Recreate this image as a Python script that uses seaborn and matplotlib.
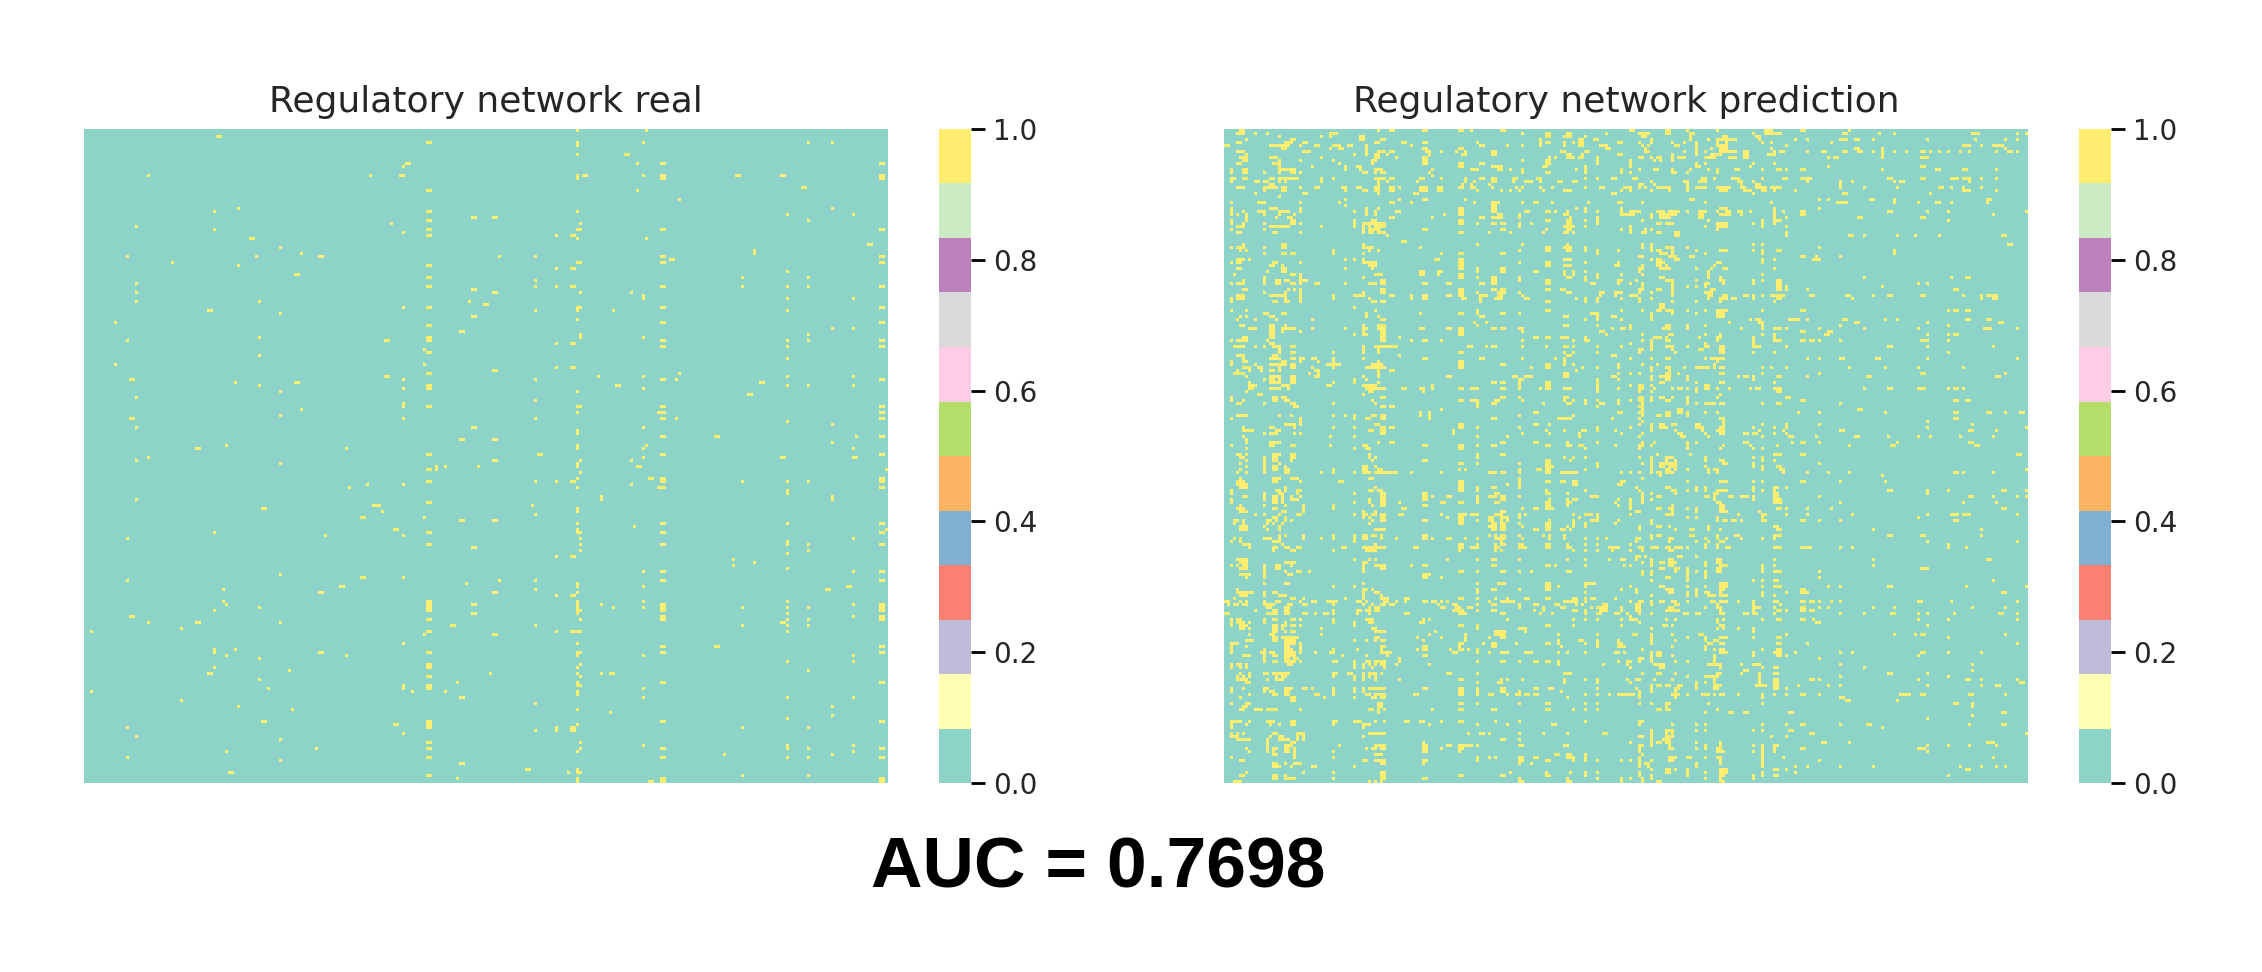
import numpy as np
import matplotlib
matplotlib.use("Agg")
import matplotlib.pyplot as plt
import seaborn as sns

n_rows = 218
n_cols = 268

# real network, {row: [columns]}, one table per area
real_upper_left = {
    2: [44, 45], 4: [114, 115], 11: [107, 108], 12: [106], 15: [21, 95, 105, 106],
    20: [114, 115], 26: [51], 27: [43, 114, 115], 29: [129, 130], 30: [114, 115], 31: [102],
    32: [17], 33: [43, 114, 115], 34: [106], 35: [114, 115], 36: [55, 56], 39: [65], 41: [72],
    42: [14, 57, 78, 79], 44: [29], 45: [51, 114, 115], 48: [70, 71], 49: [114, 115], 51: [17],
    52: [114, 115], 53: [129, 130], 54: [17], 57: [17, 58, 128], 58: [133, 134],
    59: [106, 114, 115], 60: [41, 42], 61: [65], 62: [129, 130], 64: [10], 65: [114, 115],
    67: [125, 126], 69: [58, 114, 115], 70: [14, 100, 101, 114, 115], 73: [113], 74: [114, 115],
    75: [58], 78: [10, 113], 81: [114, 115], 82: [100, 101], 83: [15, 16, 106], 84: [50, 70, 71],
    85: [58, 114, 115], 86: [106, 114, 115], 87: [65], 89: [17], 91: [106], 92: [106, 114, 115],
    93: [72], 95: [65], 96: [15, 16, 106], 99: [17, 129, 130], 103: [125, 126], 105: [47],
    106: [37, 38, 87],
}
real_upper_right = {
    0: [164, 187], 4: [164, 186, 241, 249], 5: [164], 8: [164, 180, 181],
    11: [184, 192, 193, 265, 266], 15: [164, 166, 167, 186, 192, 193, 217, 218, 232, 233, 265, 266],
    16: [164, 192, 193, 265, 266], 19: [239, 240], 20: [184], 23: [198], 26: [249], 27: [164],
    28: [234, 256], 29: [136, 137], 30: [241], 31: [165], 33: [164, 165, 192, 193, 265, 266],
    35: [157, 162, 163], 36: [164, 187], 38: [261, 262], 40: [223], 41: [223],
    42: [138, 150, 192, 193, 265, 266], 43: [195, 196], 44: [164, 165, 192, 193, 265, 266],
    46: [157, 162, 163], 47: [234], 49: [219, 241], 50: [150],
    52: [150, 157, 162, 163, 192, 193, 219, 234, 241, 265, 266], 54: [136, 137, 165, 182],
    55: [186], 56: [186, 234, 256], 58: [133, 134], 59: [164, 165, 192, 193, 265, 266],
    60: [150, 164, 176, 234], 63: [164], 64: [192, 193, 265, 266], 66: [249, 256], 68: [165, 241],
    69: [165, 186], 70: [192, 193, 234, 241, 265, 266], 71: [157, 162, 163],
    72: [192, 193, 234, 265, 266], 76: [234], 79: [157, 162, 163], 80: [136, 137], 81: [198],
    82: [171, 186, 234, 256], 83: [150, 192, 193, 197, 265, 266], 84: [225, 226],
    85: [177, 178, 234, 241, 256], 86: [186], 87: [164], 88: [221, 222], 90: [150],
    92: [164, 165, 192, 193, 265, 266], 94: [164, 191, 192, 193, 265, 266],
    96: [150, 192, 193, 197, 265, 266], 97: [234], 98: [249], 99: [186], 100: [164], 101: [164],
    102: [192, 193, 210, 211, 257, 265, 266], 103: [136, 137], 104: [249], 105: [164, 187],
    106: [164, 186, 256],
}
real_lower_left = {
    108: [114, 115], 109: [21], 110: [17], 111: [65], 112: [117, 120, 131], 113: [114, 115, 117],
    117: [114, 115], 118: [94, 106], 119: [88], 123: [17], 124: [114, 115], 125: [96, 97, 98],
    126: [59, 60], 127: [99], 129: [92, 93, 113], 130: [125, 126], 133: [103, 104],
    134: [43, 114, 115], 135: [80, 106], 136: [14], 138: [114, 115], 139: [129, 130], 148: [65],
    149: [92, 93, 106], 150: [14], 151: [127], 152: [85, 86], 153: [46], 154: [78, 79],
    157: [46, 114, 115], 158: [47, 114, 115, 129, 130], 159: [58, 114, 115], 160: [43, 114, 115],
    161: [129, 130], 162: [15, 16], 163: [114, 115], 164: [21, 37, 38, 65], 165: [122, 123],
    166: [32], 167: [2, 114, 115], 168: [113], 171: [106], 173: [43, 50], 174: [43, 78, 79, 114, 115],
    175: [47, 87], 176: [58], 178: [114, 115], 179: [43, 114, 115], 180: [68], 181: [41, 42, 135],
    182: [114, 115], 183: [58], 184: [124], 185: [106, 114, 115], 186: [61, 106, 114, 115],
    187: [2, 109, 120], 189: [125, 126], 190: [32], 192: [51], 193: [69], 197: [59, 60, 114, 115],
    198: [103, 104, 114, 115], 199: [14, 114, 115], 201: [106], 202: [17], 203: [65],
    204: [114, 115], 206: [77, 114, 115], 207: [47], 209: [14, 114, 115], 210: [65], 211: [125, 126],
    214: [48, 49], 215: [114, 115], 216: [124],
}
real_lower_right = {
    108: [151, 152, 192, 193, 265, 266], 109: [186, 232, 233, 256, 257], 110: [136, 137, 165, 182],
    111: [164], 112: [164, 184, 185], 113: [267], 114: [165], 116: [164, 188, 189, 192, 193, 265, 266],
    117: [150, 157, 162, 163, 192, 193, 219, 234, 241, 265, 266], 118: [182],
    119: [164, 191, 192, 193, 265, 266], 120: [234], 121: [234], 122: [172, 249], 123: [172, 249],
    125: [149], 126: [164], 127: [164], 128: [150], 130: [136, 137],
    131: [164, 192, 193, 234, 265, 266], 132: [183], 133: [164, 267],
    134: [164, 165, 192, 193, 265, 266], 136: [165, 256], 137: [234],
    138: [165, 192, 193, 234, 241, 265, 266], 140: [165, 241], 141: [234], 142: [157, 162, 163],
    143: [216], 144: [223], 145: [216], 146: [234], 147: [186, 192, 193, 256, 265, 266],
    150: [138, 150, 192, 193, 265, 266], 151: [164], 152: [164, 186, 254, 255], 153: [150, 247, 248],
    154: [136, 137, 164], 155: [157, 162, 163], 157: [164, 186, 234], 158: [164, 172, 192, 193, 256, 265, 266],
    159: [164, 176, 186, 192, 193, 219, 234, 241, 265, 266], 160: [164, 165, 192, 193, 265, 266],
    161: [164, 234], 162: [192, 193, 256, 265, 266], 163: [165, 192, 193, 234, 241, 265, 266],
    164: [232, 233], 165: [150, 219, 234, 241], 167: [157, 162, 163, 164, 165, 234], 168: [136, 137],
    171: [164], 172: [192, 193, 210, 211, 265, 266], 174: [164, 165, 192, 193, 265, 266],
    175: [164, 186, 256], 177: [234, 256], 178: [165], 179: [164], 180: [241],
    181: [135, 164, 172, 175, 176], 182: [165], 184: [164, 192, 193, 265, 266], 185: [164, 165],
    186: [186], 187: [164], 188: [164], 189: [186, 234, 256], 191: [150], 192: [249], 193: [164],
    194: [175], 195: [249], 196: [234], 197: [192, 193, 265, 266], 198: [164],
    199: [157, 162, 163, 219, 241], 200: [150, 157, 162, 163], 204: [165], 205: [186, 234, 256],
    206: [165, 192, 193, 234, 241, 265, 266], 207: [164, 256], 208: [213, 249],
    209: [192, 193, 234, 241, 265, 266], 213: [147, 148, 164], 214: [161, 164, 165],
    215: [219, 241], 216: [164, 192, 193, 265, 266], 217: [164, 188, 189, 192, 193, 265, 266],
}

# predicted network, same layout, estimated by eye
pred_upper_left = {
    0: [5, 6, 51, 55, 56, 66, 67, 78, 79, 82, 92, 93],
    1: [4, 5, 6, 10, 14, 35, 36, 37, 99, 107, 108, 114, 115, 127],
    2: [18, 32, 35, 45, 46, 107, 108, 113, 114, 115, 120],
    3: [7, 22, 23, 45, 46, 52, 53, 105, 118, 119, 123, 124],
    4: [4, 5, 20, 21, 22, 26, 27, 50, 51, 59, 60, 66, 67, 84, 105, 107, 108, 113, 116, 118, 119, 131, 132],
    5: [0, 1, 15, 16, 17, 18, 19, 20, 21, 25, 30, 31, 36, 37, 38, 41, 42, 47, 62, 85, 86, 94, 99, 105, 113, 118, 119, 125, 126, 127],
    6: [19, 20, 35, 38, 39, 47, 66, 67, 78, 79, 127, 128],
    7: [4, 5, 6, 26, 27, 28, 47, 51, 52, 53, 55, 56, 67, 68, 72, 77, 80, 89, 90, 112, 113, 120, 121],
    8: [7, 43, 47, 50, 51, 54, 68, 79, 80, 89, 90, 114, 115, 119, 131, 132],
    9: [5, 6, 7, 15, 16, 17, 32, 50, 51, 57, 66, 67, 108, 110, 114, 115, 116, 118, 119, 124],
    10: [6, 7, 18, 25, 36, 49, 50, 66, 67, 99, 107, 108, 124],
    11: [4, 5, 16, 17, 18, 38, 49, 66, 67, 78, 79, 85, 86, 107, 108, 124, 135],
    12: [18, 29, 40, 44, 45, 78, 79, 89, 90, 91, 92, 106, 107, 120, 135],
    13: [2, 6, 7, 18, 19, 20, 21, 22, 23, 40, 45, 50, 51, 52, 69, 82, 83, 84, 91, 92, 95, 99, 117, 120, 132],
    14: [2, 6, 7, 13, 18, 22, 23, 25, 46, 47, 50, 52, 53, 68, 99, 107, 108, 120, 132],
    15: [69],
    16: [2, 3, 6, 7, 15, 16, 18, 19, 20, 21, 22, 23, 24, 32, 36, 50, 51, 52, 53, 55, 56, 65, 66, 72, 80, 85, 86, 89, 90, 96, 97, 104, 105, 120, 124, 129, 130],
    17: [2, 10, 11, 13, 14, 18, 20, 32, 51, 54, 64, 80, 83, 89, 90, 96, 100, 101, 102, 105, 111, 112, 116, 117],
    18: [15, 16, 51, 79, 82, 88],
    19: [4, 5, 6, 13, 14, 15, 16, 17, 19, 20, 25, 30, 31, 39, 40, 44, 45, 50, 51, 55, 56, 58, 65, 66, 67, 71, 72, 78, 79, 82, 83, 89, 97, 99, 105, 109, 120, 125, 126, 133, 134],
    20: [13, 19, 20, 40, 46, 47, 50, 51, 55, 56, 65, 66, 67, 71, 72, 84, 92, 95, 98, 106, 113, 114, 115, 132, 135],
    21: [10, 26, 27, 51, 63, 64, 129, 130],
    22: [18],
    23: [40, 58, 66, 67, 80],
    24: [2, 11, 12, 13, 25, 38, 55, 56, 62, 83, 89, 90, 91, 99, 103, 104, 109, 121, 131, 132],
    25: [40, 89, 90],
    26: [2, 15, 16, 17, 25, 47, 51, 78, 79, 89, 90, 117, 120, 132],
    27: [2, 6, 11, 12, 13, 18, 19, 20, 21, 25, 43, 47, 50, 57, 58, 78, 79, 89, 90, 100, 101, 107, 108, 110, 114, 120, 124, 132],
    28: [2, 4, 7, 13, 18, 23, 47, 50, 73, 78, 79, 91, 92, 98, 113, 114, 132, 133, 134, 135, 136],
    29: [7, 17, 21, 22, 55, 56, 69, 85, 86, 89, 90, 91, 92, 98, 115, 124],
    30: [2, 7, 22, 23, 43, 49, 50, 78, 79, 107, 108, 114, 115, 120, 124],
    31: [2, 6, 13, 22, 23, 25, 43, 46, 47, 48, 49, 50, 51, 52, 53, 78, 79, 84, 89, 90, 92, 93, 98, 102, 114, 115, 124],
    32: [4, 5, 6, 15, 16, 17, 18, 19, 20, 21, 32, 43, 46, 48, 50, 51, 52, 53, 98, 113, 114, 115, 116, 120, 135],
    33: [2, 13, 46, 48, 49, 50, 51, 66, 67, 92, 93, 107, 114, 115, 132, 135],
    34: [4, 5, 16, 17, 25, 46, 48, 49, 51, 52, 53, 78, 79, 88, 95, 106, 113, 114, 116, 135],
    35: [54],
    37: [59, 60],
    38: [6, 19, 20, 46, 84, 99, 114],
    39: [2, 4, 5, 6, 13, 19, 20, 46, 47, 48, 49, 65, 107, 108, 113, 114, 115, 120],
    40: [5, 7, 36, 48, 51, 98, 107, 108, 114, 115, 120, 124, 131],
    41: [13, 19, 20, 22, 23, 36, 46, 72, 78, 79, 92, 93, 124],
    43: [4, 5, 6, 8, 40, 43, 46, 70, 71, 78, 79, 113, 114, 115],
    44: [2, 4, 5, 16, 17, 25, 46, 47, 48, 49, 50, 78, 79, 98, 107, 108, 120, 131],
    45: [15, 16, 19, 48, 49, 50, 78, 79, 107, 108, 113, 114, 115, 130, 131],
    46: [4, 5, 19, 20, 40, 49, 78, 79, 84, 92, 93],
    47: [14, 19, 20, 65, 66, 71, 72, 84, 92, 93, 103, 104, 113, 116, 120],
    48: [3, 22, 23, 25, 50, 51, 52, 65, 66, 71, 78, 79, 113, 116, 124, 132],
    49: [13, 25, 46, 78, 79, 84, 89, 90, 98, 114, 115, 120, 124],
    50: [6, 13, 17, 18, 20, 21, 25, 26, 27, 52, 53, 89, 90, 98, 107, 108, 120, 131, 132],
    51: [2, 4, 5, 6, 13, 17, 18, 22, 23, 25, 30, 31, 40, 48, 49, 50, 52, 53, 66, 67, 74, 75, 85, 86, 89, 90, 107, 108, 122, 123, 131],
    53: [6, 7, 21, 23, 25, 52, 53, 78, 79, 89, 90, 92, 93, 107, 108, 112, 113],
    54: [13, 20, 25, 46, 52, 53, 78, 79, 84, 91, 92, 93, 98, 114, 115, 125, 126, 130, 131, 132],
    55: [4, 5, 6, 15, 16, 17, 18, 19, 20, 25, 36, 43, 44, 45, 46, 55, 56, 62, 66, 67, 74, 75, 78, 79, 85, 86, 87, 91, 92, 99, 125, 130, 135, 136],
    56: [2, 4, 5, 6, 20, 25, 36, 48, 62, 66, 67, 79, 80, 85, 90, 91, 92, 100, 101, 117, 120, 124, 132],
    57: [2, 16, 17, 20, 21, 25, 49, 50, 52, 53, 85, 107, 108, 120, 124],
    59: [43],
    60: [2, 7, 50, 84, 107, 108, 132],
    61: [13, 14, 19, 20, 47, 65, 78, 79, 84, 92, 93, 98, 122, 123, 124],
    62: [5, 7, 15, 16, 47, 51, 85, 86, 113, 114, 124, 129, 130],
    63: [4, 10, 17, 29, 52, 53, 120, 124, 132],
    64: [83, 87],
    65: [5, 6, 15, 16, 20, 46, 51, 52, 53, 84, 113, 114, 124],
    66: [8, 9, 10, 15, 16, 19, 20, 21, 22, 23, 29, 40, 46, 47, 51, 52, 53, 65, 66, 74, 75, 78, 79, 89, 90, 92, 93, 98, 99, 129, 132, 133],
    67: [15, 16, 19, 25, 46, 52, 53, 78, 79, 99, 125, 126],
    68: [15, 16, 43, 46, 47, 52, 53, 78, 79, 127],
    69: [6, 7, 15, 16, 52, 53, 58, 103, 104, 107, 108, 112, 113, 114, 120],
    70: [2, 4, 5, 6, 7, 14, 52, 53, 62, 66, 67, 72, 99, 116, 120, 121],
    71: [15, 16],
    72: [3, 4, 5, 6, 10, 13, 16, 17, 18, 22, 23, 46, 50, 51, 52, 53, 54, 55, 56, 57, 81, 82, 87, 89, 90, 99, 107, 113, 114, 116, 124, 132],
    73: [18, 46, 51],
    74: [18, 22, 23, 36, 46, 51, 78, 79, 113, 116, 124],
    75: [4, 5, 6, 16, 17, 58, 114, 115, 129, 130],
    76: [6, 15, 16, 17, 18, 22, 23, 25, 26, 29, 30, 36, 46, 66, 67, 85, 86, 99, 110, 113, 135],
    77: [2, 6, 7, 19, 20, 25, 31, 36, 51, 78, 79, 113],
    78: [2, 10, 15, 16, 17, 18, 19, 20, 22, 23, 34, 35, 36, 37, 38, 49, 50, 51, 52, 78, 79, 92, 93, 107, 108, 113, 116, 131],
    79: [6, 7, 8, 11, 12, 18, 22, 23, 29, 36, 47, 48, 49, 50, 51, 52, 53, 78, 79, 102, 107, 108, 119, 124, 131],
    80: [4, 8, 12, 15, 16, 18, 30, 31, 51, 55, 56, 117],
    81: [3, 4, 5, 6, 28, 31, 51, 113, 114, 131],
    82: [7, 15, 16, 17, 18, 22, 23, 30, 31, 46, 51, 74, 75, 96, 97, 100, 101, 102, 113, 114, 129, 130],
    83: [13, 15, 16, 18, 22, 23, 43, 47, 98, 99, 124, 131],
    84: [8, 15, 16, 17, 18, 22, 23, 36, 43, 51, 89, 90, 92, 93, 98, 107, 108, 124],
    85: [8, 9, 10, 19, 20, 21, 34, 35, 46, 47, 48, 49, 50, 69, 98, 107, 108, 124],
    86: [8, 9, 15, 16, 17, 18, 21, 47, 48, 49, 50, 51, 52, 53, 59, 60, 65, 66, 69, 78, 79, 82, 83, 84, 92, 93, 98, 105, 107, 108, 113, 114, 115, 124, 131],
    87: [7, 48, 49, 66, 124],
    88: [11, 12, 46],
    89: [2, 16, 17, 19, 20, 52, 53, 92, 93, 98, 113, 114],
    90: [2, 6, 16, 17, 20, 21, 49, 78, 79, 82, 83, 84, 90, 91, 99, 113, 116, 120, 124, 131],
    91: [4, 5, 13, 22, 23, 36, 50, 84, 89, 90, 106, 114, 115, 120, 125, 126, 131],
    92: [23, 24, 52, 53, 55, 56, 84, 124],
    93: [72],
    94: [65, 68, 103, 104, 131, 132],
    95: [4, 5, 6, 7, 18, 22, 36, 40, 43, 49, 50, 52, 53, 65, 68, 98, 116],
    96: [2, 25, 43, 47, 48, 52, 53, 68, 89, 90, 111, 112, 113, 114, 115, 129],
    97: [25],
    98: [20, 21, 22, 23, 25, 50, 51, 78, 79, 103, 104, 108],
    99: [6, 15, 16, 23, 36, 43, 52, 53, 55, 56, 78, 79, 84, 98, 124],
    100: [6, 7, 8, 9, 17, 18, 48, 49, 52, 53, 76, 107, 113, 119, 120, 124, 130],
    101: [13, 15, 16, 17, 23, 25, 52, 53, 76, 99, 108, 118, 132],
    102: [6, 35, 43, 84, 94, 118],
    103: [7],
    104: [7, 15, 16, 17, 18, 51, 55, 56, 92, 93, 103, 104, 114, 124],
    105: [2, 15, 16, 22, 23, 35, 46, 47, 66, 67, 78, 79, 84, 89, 90, 107, 108, 114, 115, 118, 119, 130],
    106: [7, 43, 47, 48, 78, 79, 120],
}
pred_upper_right = {
    0: [135, 136, 147, 148, 154, 164, 180, 181, 182, 192, 193, 208],
    1: [138, 139, 140, 141, 147, 148, 155, 156, 176, 180, 181, 182, 183, 184, 185, 206, 207, 218, 223, 249, 250, 251, 264, 267],
    2: [139, 140, 155, 166, 167, 177, 178],
    3: [142, 155, 161, 164, 165, 166, 167, 168, 169, 170, 178, 190, 194, 205, 206, 207, 210, 211, 216, 234, 250, 260, 264],
    4: [138, 142, 149, 153, 157, 164, 167, 179, 182, 202],
    5: [139, 141, 150, 151, 157, 164, 165, 166, 167, 187, 246, 247, 248, 252, 256, 257, 258, 259],
    6: [140, 157, 162, 165, 166, 167, 182, 210, 211, 219, 260],
    7: [140, 141, 153, 157, 160, 165, 166, 167, 168, 169, 170, 173, 174, 183, 185, 186, 194, 199, 200, 206, 207, 211, 212, 216, 219, 223, 227, 232, 233, 235, 238, 241, 245, 248, 257, 261, 262, 264],
    8: [149, 157, 162, 163, 164, 165, 173, 174, 181, 182, 183, 219],
    9: [138, 139, 142, 144, 145, 149, 151, 152, 153, 160, 161, 162, 163, 168, 169, 170, 173, 174, 201, 203, 204, 219, 232, 233, 234],
    10: [135, 143, 145, 149],
    11: [157, 160, 176, 183],
    12: [157, 158, 175, 201, 232, 233],
    13: [138, 143, 144, 149, 155, 161, 164, 170, 171, 179, 184, 185, 187, 192, 193, 219, 237, 238, 246, 247, 257],
    14: [135, 149, 150, 154, 164],
    16: [136, 137, 159, 160, 163, 169, 170, 171, 179, 186, 187, 192, 193, 194, 195, 221, 222, 232, 233, 242, 243, 244, 246, 247, 248, 252, 257],
    17: [142, 153, 154, 158, 159, 160, 171, 172, 176, 194, 205, 209, 223, 225, 226, 248],
    18: [138, 139, 143, 154, 172, 177, 178, 205],
    19: [135, 138, 140, 144, 145, 146, 147, 148, 154, 157, 158, 159, 160, 164, 165, 166, 167, 168, 172, 173, 177, 178, 179, 180, 182, 183, 184, 185, 205, 213, 224, 238, 239, 242, 246, 252],
    20: [142, 148, 154, 165, 166, 167, 173, 174, 175, 179, 180, 183, 190, 246, 247, 248, 257],
    21: [176, 206, 207, 235],
    23: [155, 156, 198, 201, 215, 216, 223, 254, 255],
    24: [139, 160, 182, 204, 205, 206, 207, 223, 231, 237, 238, 242, 254],
    26: [165, 166, 167, 183, 198],
    27: [135, 136, 137, 138, 144, 145, 146, 148, 149, 150, 151, 154, 158, 159, 160, 164, 167, 168, 171, 172, 175, 183, 186, 192, 193, 221, 222, 234, 241, 267],
    28: [135, 136, 142, 145, 146, 147, 148, 149, 150, 158, 159, 165, 166, 167, 168, 172, 183, 192, 193, 256],
    29: [142, 145, 146, 147, 148, 158, 159, 183, 187, 211, 212, 232, 233],
    30: [139, 161, 179, 183, 184, 185, 241],
    31: [144, 145, 147, 148, 149, 164, 165, 166, 167, 176, 179, 183],
    32: [135, 160, 164, 165, 166, 167, 179, 187],
    33: [140, 142, 164],
    34: [135, 139, 140, 144, 145, 150, 151, 187],
    35: [150, 151, 187, 208, 209, 213, 224, 230, 238, 259, 260],
    38: [139, 142, 176, 179, 261, 262],
    39: [139, 142, 147, 148, 149, 154, 198],
    40: [142, 144, 145, 149, 157, 165, 166, 167, 176, 179, 184, 185, 223],
    41: [145, 146, 147, 149, 160, 179, 223],
    42: [138, 139, 148, 149, 150, 155, 156, 192, 193, 197, 205],
    43: [142, 144, 145, 150, 151, 179, 183, 196, 197, 198],
    44: [144, 145, 146, 164, 165, 179],
    45: [139, 144, 145, 147, 163],
    46: [138, 139, 145, 146, 147, 148, 157, 162, 166, 167, 183],
    47: [138, 161],
    48: [139, 161, 179],
    49: [145, 146, 161, 165, 213, 242, 247, 248],
    50: [137, 147, 148, 149, 157, 165, 166, 176, 179, 184, 185],
    51: [135, 139, 149, 160, 161, 166, 176, 184, 185, 231, 234],
    52: [139, 149, 154, 157, 160, 184, 185, 187, 219],
    53: [138, 139, 144, 145, 149, 162, 163, 184, 185, 187, 194, 243, 244],
    54: [138, 142, 149, 160, 161, 162],
    55: [135, 136, 137, 149, 161, 162, 166, 167, 173, 174, 176, 179, 182, 183, 184, 185, 186, 195, 196, 207, 208, 216, 221, 222, 232, 233, 246, 252, 254, 255, 256, 257],
    56: [138, 142, 161, 165, 166, 167, 169, 170, 176, 184, 185, 209, 252, 256, 257],
    57: [138, 149, 157, 165, 183],
    58: [145, 146],
    59: [145, 146],
    60: [139, 144, 145, 147, 148, 149, 154, 160, 164, 165, 166, 167, 179, 192, 193, 241, 243, 244, 247, 248],
    61: [142, 149, 157, 164, 165, 166],
    62: [142, 164, 165, 166],
    63: [142, 175, 177, 178, 188, 189, 190, 191, 194, 206, 207, 220, 224, 247, 248, 254, 255],
    64: [168, 178, 179, 210, 211, 234, 258, 259],
    65: [135, 147, 148, 154, 160, 179, 205, 241],
    66: [135, 146, 147, 148, 154, 172, 179, 183, 184, 185, 187, 198, 213, 231, 253, 254, 255, 264],
    67: [192, 193, 201, 202],
    68: [139, 148, 149, 160, 165, 179, 183, 200, 201, 234, 241, 243, 244],
    69: [143, 144, 145, 147, 158, 164, 165, 176, 183],
    70: [139, 142, 147, 148, 164, 176, 183, 184, 185, 192, 193, 195, 196, 198, 205, 232, 233, 234, 241],
    71: [135, 142, 160, 176],
    72: [142, 147, 148, 149, 154, 160, 161, 165, 166, 176, 177, 178, 187, 221, 222, 234, 256],
    73: [138, 139, 142, 149, 158, 159, 165, 166],
    74: [138, 150, 165, 166, 176, 183, 241],
    76: [142, 147, 148, 160, 162, 163, 164, 165, 166, 194, 198, 205, 206, 217, 218, 234, 264],
    77: [164],
    78: [139, 144, 163],
    79: [142, 147, 148, 153, 157, 158, 159, 160, 161, 163, 165, 166, 179, 182, 187, 208, 220, 231, 246],
    80: [142, 148],
    81: [135, 138, 147, 148, 151, 165, 166, 179, 198, 232, 233, 260],
    82: [142, 145, 146, 147, 148, 154, 171, 173, 174, 176, 184, 185, 194, 214, 215, 257, 258],
    83: [142, 147, 148, 154, 176],
    84: [145, 146, 157, 165, 166, 183],
    85: [135, 138, 139, 142, 160, 161],
    86: [138, 139, 143, 149, 151, 152, 154, 157, 160, 161, 164, 168, 175, 177, 178, 183, 184, 185, 213, 221, 222, 231, 232, 233, 241, 243, 244, 246],
    87: [138, 142, 157, 184, 185],
    88: [165],
    89: [138, 139, 142, 145, 146, 149, 154, 164, 187, 188],
    90: [135, 138, 139, 142, 147, 148, 154, 192, 193, 243, 244, 247, 248],
    91: [139, 154, 157, 160, 161, 162, 163, 165, 166, 179, 184, 185, 205],
    92: [138, 139],
    93: [139, 151, 152, 211, 212],
    94: [138, 139, 147, 148, 151, 152, 154, 160, 164, 191, 198, 220, 243, 244, 254, 255, 260, 265, 266],
    95: [139, 144, 145, 147, 148, 154],
    96: [138, 165, 166, 243, 244],
    97: [139, 166, 234],
    98: [138, 142, 145, 146, 149, 150, 157, 158, 166, 179, 187, 198, 249],
    99: [135, 142, 145, 146, 147, 157, 158, 159, 165, 166, 176, 183, 187, 234, 267],
    100: [142, 150, 159, 164, 165, 166, 178, 186, 205, 206, 248, 249, 257],
    101: [139, 151, 152, 160, 165, 166, 173, 174, 176, 177, 183, 187],
    102: [138, 152, 153, 161, 179, 188, 189, 197, 210, 211, 221, 231, 235, 245, 256],
    104: [139, 143, 154, 157, 173, 174, 189, 192, 193, 198, 224, 248, 249],
    105: [138, 139, 142, 154, 166, 175, 184, 208, 222, 223, 250, 251],
    106: [138, 154, 165, 176, 179],
}
pred_lower_left = {
    108: [4, 5, 7, 16, 17, 18, 22, 23, 48, 84, 92, 93],
    109: [5, 6, 13, 16, 17, 22, 23, 48, 50, 84, 113, 116, 120],
    110: [7, 13, 16, 17, 22, 49, 66, 67, 107, 108, 115],
    111: [5, 13, 18, 78, 79, 84, 98, 107, 108, 124],
    112: [7, 13, 16, 17, 20, 46, 47, 50, 107, 108, 109, 124],
    113: [5, 13, 16, 17, 20, 21, 36, 46, 47, 51, 52, 78, 80, 98, 104, 105, 107, 108, 120],
    114: [4, 7, 13, 20, 21, 32, 36, 43, 46, 47, 48, 50, 51, 52, 53, 54, 55, 56, 57, 62, 72, 88, 89, 90, 92, 93, 98, 107, 108, 112, 113, 114, 115, 116, 117, 132, 135],
    116: [5, 16, 17, 18, 22, 23, 24, 48, 49, 98],
    117: [4, 5, 6, 16, 17, 25, 38, 39, 78, 79, 98, 107, 108, 112, 113, 116, 117, 132, 133],
    118: [4, 5, 6, 7, 78, 79, 94, 98, 116, 117, 131, 132],
    119: [5, 6, 7, 20, 50, 78, 79, 84, 89, 90, 98],
    120: [2, 17, 18, 20, 24, 25, 48, 49, 51, 52, 78, 79, 84, 107, 120],
    121: [2, 13, 18, 19, 24, 43, 52, 53, 66, 67, 90, 91, 107, 108, 114],
    122: [6, 7, 13, 16, 17, 19, 22, 25, 52, 53, 66, 67, 69, 74, 75, 84, 88, 89, 90, 92, 93, 98, 122, 123, 124],
    123: [2, 13, 16, 17, 19, 22, 23, 24, 48, 52, 53, 66, 67, 84, 92, 93, 108, 114, 116, 117, 131],
    124: [2, 16, 17, 19, 43, 48, 52, 53, 58, 72, 73, 78, 79, 84, 90, 91, 107, 108, 114, 115, 130, 135],
    125: [5, 13, 20, 26, 36, 49, 52, 53, 66, 67, 107, 108, 114, 131, 135],
    126: [4, 5, 6, 16, 17, 26, 36, 59, 60, 99, 103, 104, 107, 108, 109],
    127: [5, 6, 7, 19, 20, 26, 46, 50, 92, 93],
    128: [10, 13, 18, 24, 25, 43, 46, 47, 49, 50, 52, 53, 58, 59, 72, 78, 79, 80, 82, 83, 84, 90, 91, 92, 98, 100, 116, 120, 121, 122, 124],
    129: [16, 17, 20, 46, 48, 52, 53, 74, 78, 79, 88, 89, 92, 93, 94, 98, 118, 124],
    130: [3, 4, 6, 14, 15, 17, 20, 22, 49, 52, 53, 66, 67, 78, 79, 84, 88, 89, 92, 94, 108, 116, 122, 123, 124, 131],
    131: [3, 6, 14, 16, 19, 48, 78, 79, 89, 90, 92, 93, 98, 107, 108, 116, 120, 130],
    132: [5, 6, 7, 13, 18, 88, 89, 90, 92, 93, 99, 107, 108, 114, 116, 120],
    133: [5, 6, 7, 14, 18, 50, 51, 52, 53, 89, 90, 92, 93, 103, 104, 107, 108, 112, 113, 115],
    135: [18, 20, 26, 36, 43, 46, 47, 49, 50, 52, 66, 67, 88, 90, 92, 93, 98, 106, 108, 113],
    136: [3, 5, 13, 14, 15, 18, 26, 32, 36, 43, 46, 47, 52, 57, 66, 67, 69, 74, 75, 80, 84, 90, 91, 92, 93, 99, 108, 113, 120, 124, 127],
    137: [2, 5, 16, 17, 18, 43, 92],
    138: [6, 7, 8, 19, 50, 78, 79, 84, 90, 92, 93, 98, 99, 107, 108, 114, 120, 124],
    139: [8, 16, 17, 20, 21, 24, 25, 39, 40, 46, 47, 48, 49, 50, 51, 52, 53, 63, 64, 78, 79, 82, 83, 84, 90, 91, 98, 99, 100, 107, 108, 114, 115, 128, 129, 130, 131],
    140: [16, 22, 23, 36, 47, 48, 49, 50, 78, 90, 92, 116, 120, 124, 129],
    143: [4, 5, 6, 7, 43, 48, 50, 74, 84, 89, 90, 98, 114, 120, 128, 132, 133],
    144: [5, 6, 7, 20, 21, 22, 23, 46, 47],
    145: [2, 4, 6, 7, 13, 17, 18, 22, 46, 50, 51, 52, 53, 62, 66, 67, 89, 90, 107, 108, 110, 120, 133],
    146: [5, 6, 7, 13, 17, 18, 46, 52, 53],
    147: [13, 20, 24, 25, 28, 46, 78, 79, 84, 92, 93, 98, 102, 114, 115],
    148: [5, 6, 7, 8, 13, 21, 22, 66, 67, 68],
    149: [7, 13, 66, 67, 72],
    151: [13, 20, 21, 46, 84, 91, 92, 93, 107, 108, 120, 121, 122, 123],
    152: [36, 43, 107, 108, 111, 120],
    153: [4, 46, 47, 49, 84, 89, 90, 98, 107, 108, 132],
    154: [4, 5, 6, 7, 8, 9, 13, 16, 17, 46, 50, 51, 84, 120],
    155: [5, 6, 7, 13, 18, 19, 20, 46, 52],
    156: [3, 22, 23, 26, 40, 46, 52, 53, 54, 60, 61, 78, 79, 84, 90, 94, 100, 101, 107, 108, 116, 117, 120, 122, 123, 130],
    157: [0, 1, 5, 7, 13, 17, 18, 25, 29, 30, 34, 35, 36, 37, 44, 45, 47, 53, 54, 57, 60, 66, 67, 69, 70, 72, 74, 88, 92, 93, 94, 95, 96, 113, 114, 115, 116, 117, 120],
    158: [1, 3, 4, 6, 7, 13, 14, 15, 16, 21, 22, 26, 27, 36, 46, 49, 52, 53, 55, 56, 71, 76, 77, 84, 89, 90, 98, 103, 104, 110, 111, 117, 119, 126, 127],
    159: [14, 15, 20, 21, 48, 50, 51, 72, 73, 77, 78, 81, 82, 98, 106, 112, 113, 122, 124, 125, 126, 127, 132],
    160: [10, 16, 17, 20, 21, 36, 44, 45, 47, 48, 50, 51, 76, 77, 78, 79, 84, 89, 90, 103, 106, 116, 117, 120, 125, 126, 127, 132],
    161: [0, 1, 14, 15, 16, 17, 20, 21, 26, 27, 30, 33, 34, 36, 44, 48, 60, 61, 78, 79, 80, 92, 93, 105, 109, 120, 124, 125, 130, 131, 134],
    163: [2, 4, 5, 13, 16, 17, 22, 23, 25, 36, 47, 48, 49, 66, 68, 94, 116, 120, 124, 132],
    164: [2, 4, 5, 6, 8, 13, 20, 36, 43, 48, 49, 65, 66],
    165: [2, 5, 6, 7, 16, 17, 19, 20, 22, 23, 25, 43, 78, 79, 84, 107, 108, 116, 132],
    166: [5, 6, 8, 16, 17, 19, 32, 49, 50, 84, 98, 99, 100],
    167: [16, 17, 20, 22, 23, 50, 51, 52, 53, 70, 90, 91, 92, 93, 100],
    168: [8, 15, 16, 32, 68, 80, 90, 91, 92, 93, 111, 124],
    169: [16, 17, 19, 20, 21, 22, 23, 24, 50, 51, 64, 72, 80, 88, 92, 93],
    170: [7, 8, 9, 16, 17, 20, 21, 22, 23, 43, 47, 50, 52, 53, 66, 80, 111, 118, 119, 124, 131],
    171: [2, 3, 4, 20, 21, 22, 23, 25, 78, 79, 86, 89, 90, 97, 107, 108, 111, 120, 124, 131, 132],
    172: [2, 7, 20, 21, 25, 52, 53, 66, 67, 78, 89, 90, 112, 124, 131, 132, 133],
    173: [2, 13, 20, 21, 22, 25, 36, 44, 52, 64, 66, 67, 75, 78, 79, 81, 84],
    174: [2, 12, 13, 15, 16, 20, 21, 22, 23, 25, 30, 35, 36, 52, 53, 54, 55, 76, 77, 84, 88, 92, 93, 94, 100, 101, 102, 111, 114, 120, 130, 131, 133],
    175: [6, 7, 8, 13, 16, 17, 20, 21, 22, 23, 39, 47, 54, 66, 67],
    176: [13, 20, 21, 23, 24, 58],
    177: [13, 16, 17, 20, 21, 22, 23, 25, 36, 37, 43, 47, 48, 50, 51, 52, 53, 58, 84, 92, 93, 98, 103, 104, 107, 108, 111, 131, 134],
    178: [2, 4, 5, 7, 21, 22, 43, 46, 48, 50, 52, 53, 57, 68, 111, 126, 134],
    179: [2, 5, 7, 43, 46, 49, 53],
    181: [5, 8, 13, 14, 16, 17, 18, 19, 20, 21, 36, 37, 41, 42, 46, 48, 49, 50, 52, 74, 75, 84, 113, 114, 115],
    182: [4, 6, 8, 17, 19, 20, 36, 43, 46, 48, 50],
    183: [4, 5, 6, 7, 14, 17, 18, 19, 43, 46, 50, 58, 78, 79, 92, 94, 99, 113, 120, 124, 134],
    184: [7, 8, 84, 91, 92, 113, 124],
    186: [2, 6, 13, 14, 20, 21, 22, 26, 27, 29, 36, 43, 46, 48, 49, 50, 51, 52, 53, 66, 67, 78, 79, 84, 92, 93, 103, 104, 108, 109, 124],
    187: [2, 13, 15, 16, 20, 21, 36, 43, 46, 78, 79, 84, 92, 93, 98, 112],
    188: [8, 16, 17, 20, 21, 30, 31, 36, 47, 48, 50, 51, 52, 53, 63, 64, 78, 79, 84, 88, 89, 94, 97, 98, 100, 101, 103, 104, 120, 124, 128, 131, 132, 133, 134, 135, 136],
    189: [5, 22, 23, 33, 43, 49, 50, 52, 53, 114],
    190: [22, 23],
    191: [2, 7, 8, 51, 52, 78, 79, 84, 98, 107, 108, 120, 124],
    192: [6, 7, 51, 52],
    193: [5, 6, 10, 11, 12, 14, 15, 16, 17, 25, 48, 49, 51, 53, 69, 78, 79, 89, 90, 107, 108, 116, 120, 124],
    194: [51],
    197: [2, 3, 4, 5, 8, 14, 15, 16, 22, 23, 36, 37, 43, 44, 45, 50, 53, 60, 61, 65, 66, 72, 78, 79, 90, 98, 120],
    198: [2, 7, 15, 18, 22, 23, 36, 46, 47, 48, 68, 84, 94, 109, 110],
    199: [2, 46],
    201: [2, 4, 6, 16, 17, 24, 25, 26, 48, 49, 50, 51, 52, 53, 81, 85, 86, 88, 98, 106, 114, 126, 127],
    202: [2, 3, 4, 15, 18, 19, 24, 26, 46],
    203: [4, 5, 6, 7, 8, 14, 18, 19, 20, 21, 24, 26, 92, 93, 98],
    204: [14, 22, 23, 66],
    205: [14, 20, 21, 22, 38, 50, 51, 52, 53, 66, 67, 74, 75, 78, 79, 80, 81, 82, 84, 98, 99, 113, 114],
    206: [7, 14, 16, 17, 20, 21, 23, 47, 49, 50, 52, 53, 66, 67, 72, 78, 79],
    207: [8, 14, 16, 20, 21, 23, 36, 66, 67, 78],
    208: [16, 17, 23, 50, 51, 52, 110, 111, 114, 115, 120],
    209: [2, 23, 36, 84, 88, 90, 98, 99, 103, 104, 114, 115, 116, 120],
    210: [5, 6, 46, 47, 50, 51, 52, 53, 66, 67, 84, 98, 99, 107, 108, 116, 120, 124, 132],
    211: [16, 17, 20, 23, 24, 25, 52, 53, 66, 98, 102],
    212: [16, 17, 18, 22, 29, 30, 43],
    214: [7, 26, 36, 52, 53, 95, 107, 115, 120, 124],
    215: [5, 6, 16, 17, 20, 52, 53, 78, 79, 92, 93, 107, 108, 120],
    216: [16, 17, 20, 21, 22, 23, 36, 52, 53, 66, 67, 98, 114, 124, 132],
    217: [3, 4, 5, 48, 50, 52, 98, 99, 114, 115, 132],
}
pred_lower_right = {
    108: [144, 155, 183, 184, 185, 192, 193, 264, 265],
    109: [138, 142, 147, 148, 149, 160, 176, 179],
    110: [142, 147, 150, 160, 165, 166, 179, 183],
    111: [139, 142, 145, 146, 147, 148, 149, 150, 166, 167, 176, 198],
    112: [142, 145, 146, 148, 149, 150, 160, 176, 179, 184, 185],
    113: [142, 147, 148, 150, 154, 161, 163, 164, 179, 185, 186, 267],
    114: [138, 142, 144, 145, 147, 148, 149, 161, 164, 186, 194, 201, 208, 243, 244, 246, 256],
    115: [145, 219],
    116: [139],
    117: [154, 165, 166, 167, 176, 179, 192, 193, 205, 220],
    119: [137, 147, 148, 157, 160, 176, 183, 184, 187],
    120: [138, 149, 150, 154, 157, 160, 164, 165, 166, 167, 176, 179, 183, 221, 222, 234, 241, 259, 260, 267],
    121: [139, 142, 150, 163, 164, 183, 184, 234],
    122: [139, 144, 145, 160, 161, 163, 168, 169, 172, 173, 174, 176, 183, 184, 198, 248, 249, 256, 264, 267],
    123: [135, 139, 142, 163, 176, 183, 184, 185],
    124: [135, 139, 164, 165, 183, 184, 185, 205, 246, 257],
    125: [149, 165, 166],
    126: [135, 144, 145, 148, 149, 154, 157, 165, 166, 184, 185, 187, 194, 202, 259, 260],
    127: [137, 138, 149, 157, 165, 166, 167, 178],
    128: [135, 147, 148, 149, 171, 179, 180, 187, 194, 209, 234, 242, 243, 244, 246, 247, 248, 264],
    129: [154, 157, 164, 179, 231],
    130: [142, 164, 166, 167, 169, 170, 172, 179, 180, 192, 193, 198, 205, 243, 244],
    131: [142],
    132: [138, 144, 145, 148, 161, 183, 184],
    133: [138, 150, 155, 156, 161, 165, 184, 185, 216, 252],
    135: [142, 144, 145, 155, 156, 164, 170, 171, 183, 184, 185, 221, 222, 232, 233, 252],
    136: [137, 138, 142, 148, 149, 160, 164, 167, 172, 179, 183],
    137: [137, 148, 157, 161, 165, 166, 234, 264],
    138: [135, 160, 164, 241],
    139: [138, 139, 142, 143, 144, 147, 148, 150, 151, 152, 154, 160, 164, 167, 168, 183, 184, 185, 192, 193, 194, 195, 205, 209, 241, 247],
    140: [135, 139, 148, 149],
    142: [137, 138, 140, 151, 152, 157],
    143: [137, 142, 148, 149, 164, 165, 183, 216, 254, 255],
    144: [139, 142, 145, 146, 148, 149, 150, 160, 164, 165],
    145: [135, 142, 148, 149, 160, 165, 166, 167, 179, 183, 216],
    146: [145, 146, 150, 151, 154, 164, 165, 179, 232, 233, 234],
    147: [139, 142, 150, 154, 157, 160, 164, 165, 179, 183, 184, 185, 198],
    148: [139, 142, 154, 160],
    149: [147, 148, 154, 160, 198],
    150: [142, 154, 176, 179, 183, 184, 256],
    151: [165, 166, 167],
    152: [135, 145, 146, 154, 160, 165, 166, 167, 179, 183, 184, 185, 201, 205, 221, 222, 247, 267],
    153: [137, 147, 148, 149, 157, 165, 166, 192, 193],
    154: [137, 148, 149, 154, 157, 160, 161, 165, 179, 187, 192, 193, 194, 259, 260],
    155: [142, 154, 157, 161, 162, 163, 165, 166, 167, 179, 183],
    157: [135, 138, 139, 142, 145, 146, 149, 150, 154, 162, 163, 165, 166, 167, 171, 176, 183, 184, 192, 193, 195, 196, 198, 202, 205, 231, 232, 242, 264],
    158: [137, 138, 142, 150, 151, 164, 176, 185],
    159: [137, 138, 148, 149, 160, 164, 165, 176, 177, 178, 183, 192, 193, 198, 201, 216, 223, 249, 260],
    160: [137, 138, 147, 148, 149, 150, 151, 165, 176, 184, 185, 187, 192, 193, 195, 196],
    161: [138, 142, 153, 154, 157, 158, 165, 166, 173, 174, 176, 177, 183, 205, 213, 222, 223, 231, 234, 243, 258, 259, 264],
    162: [135],
    163: [135, 136, 137, 147, 150, 164, 166, 179, 184, 185, 192, 193, 196, 231, 241, 264],
    164: [138, 164, 197, 198],
    165: [146, 147, 149, 165, 166, 234],
    166: [142, 164, 166, 171, 176],
    167: [176],
    168: [136, 137, 142, 149, 158, 159, 187, 223, 230, 232, 233, 260],
    169: [142, 154, 160, 165, 166, 167, 176, 184, 185, 241],
    170: [142, 150, 160, 163, 164],
    171: [142, 161, 162, 165, 166, 184, 185, 194, 264],
    172: [149, 160],
    173: [139, 160, 163, 165, 166, 179, 184, 185],
    174: [142, 144, 145, 165, 166, 167, 176, 183, 184, 185, 190, 205, 209, 232, 233, 241, 252],
    175: [142, 144, 145, 149, 163, 176, 184, 185, 187, 231],
    176: [138, 139, 142, 163, 198],
    177: [135, 138, 142, 150, 154, 163],
    178: [143, 144, 145, 146, 161, 162, 163, 164, 165, 172, 176, 177, 178, 205, 249],
    179: [135, 145, 146, 165, 179, 183, 184, 213],
    180: [173, 174, 249],
    181: [139, 144, 145, 150, 164, 165, 172, 178, 183, 184, 221, 222, 234],
    182: [154, 160, 161, 162, 163, 164, 178, 205, 241],
    183: [137, 138, 143, 149, 163, 178, 183, 184, 195, 196, 198, 231, 247, 248, 252, 264],
    184: [135, 157, 160, 163, 178, 183, 184, 265, 266],
    185: [142, 144, 145, 147, 148, 151, 152, 157, 163, 164, 165, 177, 178, 179, 180, 183, 184, 191, 201, 205, 234, 252, 257, 258],
    186: [137, 142, 150, 151, 157, 163, 164, 183, 184, 187],
    187: [138, 142, 150],
    188: [135, 138, 149, 150, 151, 154, 159, 160, 161, 163, 165, 166, 171, 179, 183, 187, 192, 193, 198, 225, 226, 227, 228, 232, 233, 248, 249, 260],
    189: [138, 150, 179, 205, 206],
    190: [207, 208, 224],
    191: [138, 142, 147, 148, 161, 179, 243, 244, 249],
    192: [147, 249],
    193: [144, 145, 147, 148, 164],
    194: [160, 168, 169, 173, 174, 188, 189, 259, 260],
    195: [249],
    196: [234],
    197: [138, 139],
    198: [138, 149, 157, 160, 179, 187, 192, 193, 205, 214, 215, 248, 259, 260],
    199: [219],
    200: [142, 147, 148, 149, 157, 160, 176, 179, 188, 189],
    201: [142, 147, 149, 195, 196, 267],
    202: [138, 139, 142, 147, 148, 149, 182, 187],
    203: [142, 146, 147, 148],
    204: [135, 142, 144, 145, 147, 148, 157, 165, 199, 200, 208, 254, 255, 256],
    205: [138, 139, 142, 148, 160, 165, 176, 179, 183, 184, 234, 241, 248, 257],
    206: [138, 148, 149, 157, 160, 164, 165, 179, 183, 192, 193, 231, 232, 233],
    207: [138, 164, 165, 166, 176, 179, 183, 234],
    208: [139, 179],
    209: [138, 148, 149, 150, 154, 155, 160, 164, 165, 179, 186, 256],
    210: [135, 138, 142, 148, 149, 165, 179, 198],
    211: [138, 140, 141, 157, 165, 179],
    212: [138, 141, 157, 179, 190, 194, 205, 216, 245, 252, 257, 260],
    213: [142, 147, 148, 150, 154, 165, 166, 167, 183, 184, 187, 247, 248],
    214: [138, 147, 148, 154, 160, 165, 166, 167, 179, 190],
    215: [138, 142, 154, 165, 166, 176, 179, 183, 184, 241],
    216: [135, 139, 142, 160, 165, 176],
    217: [139, 144, 145, 165, 166],
}


def to_matrix(*tables):
    m = np.zeros((n_rows, n_cols))
    for table in tables:
        for row, cols in table.items():
            m[row, cols] = 1
    return m


real = to_matrix(real_upper_left, real_upper_right, real_lower_left, real_lower_right)
pred = to_matrix(pred_upper_left, pred_upper_right, pred_lower_left, pred_lower_right)

W, H = 2262, 972
fig = plt.figure(figsize=(W / 100, H / 100), dpi=100)


def panel(data, title, x0, x_cbar):
    ax = fig.add_axes([x0 / W, 1 - 783 / H, 804 / W, 654 / H])
    cax = fig.add_axes([x_cbar / W, 1 - 783 / H, 32 / W, 654 / H])
    sns.heatmap(data, ax=ax, cbar_ax=cax, cmap="Set3", vmin=0, vmax=1,
                xticklabels=False, yticklabels=False)
    ax.set_title(title, fontsize=26, color="#262626", pad=12)
    cax.tick_params(labelsize=20, length=10, width=2, pad=6, labelcolor="#262626")


panel(real, "Regulatory network real", 84, 939)
panel(pred, "Regulatory network prediction", 1224, 2079)

fig.text(1098 / W, 1 - 888 / H, "AUC = 0.7698", family="Liberation Sans", weight="bold",
         fontsize=51.4, ha="center", va="baseline", color="black")

fig.savefig("out.png", dpi=100)
